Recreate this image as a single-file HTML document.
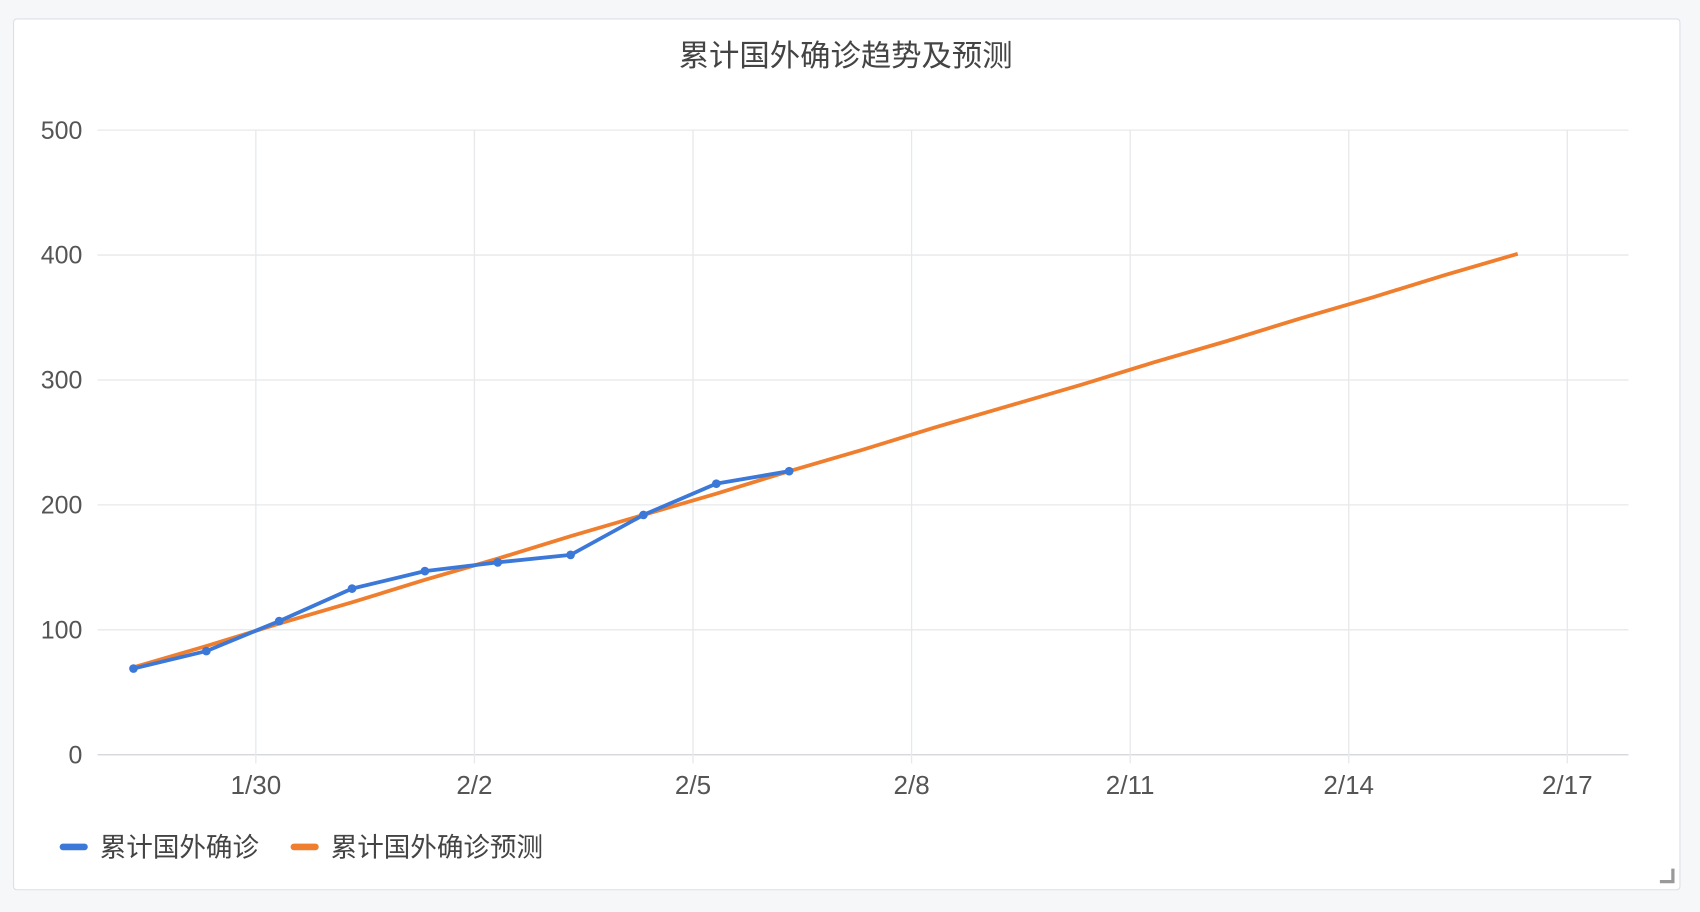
<!DOCTYPE html>
<html><head><meta charset="utf-8">
<style>
html,body{margin:0;padding:0;background:#f6f7f9;}
svg{display:block;font-family:"Liberation Sans","Noto Sans CJK SC",sans-serif;}
</style></head>
<body>
<svg id="chart" width="1700" height="912" viewBox="0 0 1568 841" preserveAspectRatio="none" xmlns="http://www.w3.org/2000/svg">
<rect x="0" y="0" width="1568" height="841" fill="#f6f7f9"/>
<rect x="12.5" y="17.5" width="1537" height="803" rx="3" fill="#fff" stroke="#dcdfe6"/>
<text x="780" y="61" text-anchor="middle" font-size="28" fill="#444">累计国外确诊趋势及预测</text>
<g id="grid"></g>
<g id="axes"></g>
<g id="series"></g>
<g>
<g><rect x="55" y="778" width="26" height="6" rx="3" fill="#3b78d8"/><text x="92" y="790" font-size="24.5" fill="#444">累计国外确诊</text></g>
<g><rect x="268" y="778" width="26" height="6" rx="3" fill="#ef7f2e"/><text x="305" y="790" font-size="24.5" fill="#444">累计国外确诊预测</text></g>
</g>
<path d="M1531 813 H1543 V801" fill="none" stroke="#999" stroke-width="3"/>
</svg>
<script>
const yTicks=[0,100,200,300,400,500];
const xTickLabels=["1/30","2/2","2/5","2/8","2/11","2/14","2/17"];
const xTickDays=[0,3,6,9,12,15,18];
const actualDays=[-1.68,-0.68,0.32,1.32,2.32,3.32,4.32,5.32,6.32,7.32];
const actualValues=[69,83,107,133,147,154,160,192,217,227];
const forecastDays=[-1.68,-0.68,0.32,1.32,2.32,3.32,4.32,5.32,6.32,7.32,8.32,9.32,10.32,11.32,12.32,13.32,14.32,15.32,16.32,17.32];
const forecastValues=[70,87,105,122,140,157,175,192,209,227,244,262,279,296,314,331,349,366,384,401];

const NS="http://www.w3.org/2000/svg";
const xS=d=>236+d*67.2;
const yS=v=>696-v*1.152;
function mk(tag,attrs,parent){const e=document.createElementNS(NS,tag);for(const k in attrs)e.setAttribute(k,attrs[k]);parent.appendChild(e);return e;}
const grid=document.getElementById('grid'),axes=document.getElementById('axes'),series=document.getElementById('series');
yTicks.forEach(v=>{
  const l=mk('line',{x1:90,x2:1502,y1:yS(v),y2:yS(v),stroke:v===0?'#d0d3d8':'#e6e8eb','stroke-width':1.2},grid);
  
  
  const t=mk('text',{x:76,y:yS(v)+8,'text-anchor':'end','font-size':23,fill:'#555'},axes);
  t.textContent=v;
  
  
});
xTickDays.forEach((d,i)=>{
  const l=mk('line',{x1:xS(d),x2:xS(d),y1:yS(500),y2:yS(0)+8,stroke:'#e6e8eb','stroke-width':1.2},grid);
  
  
  const t=mk('text',{x:xS(d),y:732,'text-anchor':'middle','font-size':24,fill:'#555'},axes);
  t.textContent=xTickLabels[i];
  
  
});
const fp=mk('polyline',{points:forecastDays.map((d,i)=>xS(d)+','+yS(forecastValues[i])).join(' '),fill:'none',stroke:'#ef7f2e','stroke-width':3.5,'stroke-linejoin':'round'},series);


const ap=mk('polyline',{points:actualDays.map((d,i)=>xS(d)+','+yS(actualValues[i])).join(' '),fill:'none',stroke:'#3b78d8','stroke-width':3.5,'stroke-linejoin':'round'},series);


actualDays.forEach((d,i)=>{
  const c=mk('circle',{cx:xS(d),cy:yS(actualValues[i]),r:4,fill:'#3b78d8'},series);
  
  
});
</script>
</body></html>
